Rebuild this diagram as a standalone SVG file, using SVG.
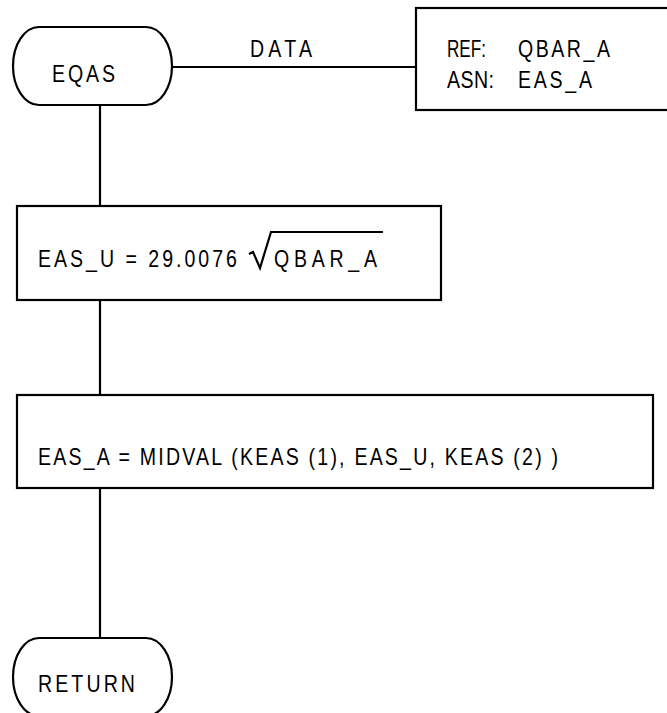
<svg xmlns="http://www.w3.org/2000/svg" width="667" height="713" viewBox="0 0 667 713">
<style>
.s{fill:#fff;stroke:#000;stroke-width:2.2}
.l{fill:none;stroke:#000;stroke-width:2.2}
.t{font-family:"Liberation Sans",Arial,sans-serif;font-size:23px;fill:#000}
</style>
<rect width="667" height="713" fill="#fff"/>
<g id="connectors">
<line class="l" x1="172" y1="67" x2="416" y2="67"/>
<text class="t" transform="translate(250,57) scale(0.85,1)" textLength="72.9" lengthAdjust="spacing">DATA</text>
<line class="l" x1="100" y1="105" x2="100" y2="206"/>
<line class="l" x1="100" y1="300" x2="100" y2="395"/>
<line class="l" x1="100" y1="488" x2="100" y2="638"/>
</g>
<g id="eqas">
<path class="s" d="M39,27 H146 A26,39 0 0 1 146,105 H39 A26,39 0 0 1 39,27 Z"/>
<text class="t" transform="translate(52,82) scale(0.85,1)" textLength="74.1" lengthAdjust="spacing">EQAS</text>
</g>
<g id="data-box">
<rect class="s" x="416" y="8" width="290" height="102"/>
<text class="t" transform="translate(447,57) scale(0.85,1)" textLength="45.9" lengthAdjust="spacingAndGlyphs">REF:</text>
<text class="t" transform="translate(518,57) scale(0.85,1)" textLength="108.2" lengthAdjust="spacing">QBAR_A</text>
<text class="t" transform="translate(447,88) scale(0.85,1)" textLength="55.3" lengthAdjust="spacing">ASN:</text>
<text class="t" transform="translate(518,88) scale(0.85,1)" textLength="87.1" lengthAdjust="spacing">EAS_A</text>
</g>
<g id="eas-u">
<rect class="s" x="17" y="206" width="424" height="94"/>
<text class="t" transform="translate(38,267) scale(0.85,1)" textLength="234.1" lengthAdjust="spacing">EAS_U = 29.0076</text>
<path class="l" d="M249,254 L253,252 L260,268 L271,232 H383"/>
<text class="t" transform="translate(274,267) scale(0.85,1)" textLength="121.2" lengthAdjust="spacing">QBAR_A</text>
</g>
<g id="eas-a">
<rect class="s" x="17" y="395" width="636" height="93"/>
<text class="t" transform="translate(38,465) scale(0.85,1)" textLength="611.8" lengthAdjust="spacing">EAS_A = MIDVAL (KEAS (1), EAS_U, KEAS (2) )</text>
</g>
<g id="return">
<path class="s" d="M39,638 H146 A26,39 0 0 1 146,716 H39 A26,39 0 0 1 39,638 Z"/>
<text class="t" transform="translate(38,692) scale(0.85,1)" textLength="114.1" lengthAdjust="spacing">RETURN</text>
</g>
</svg>
